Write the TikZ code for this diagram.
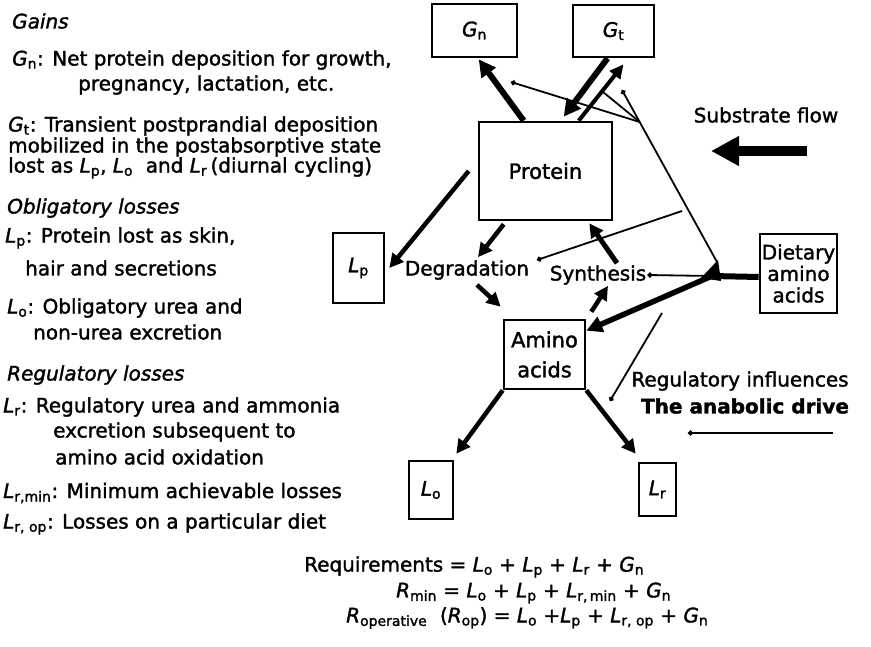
\documentclass[tikz,border=0pt]{standalone}
\usepackage{fontspec}
\setmainfont{DejaVu Sans}[FakeBold=1.6]
\usetikzlibrary{arrows.meta,calc}
\newcommand\sbs[2]{\textit{#1}\textsubscript{#2}}
\begin{document}
\begin{tikzpicture}[x=1pt,y=-1pt,
  every node/.style={font=\fontsize{20}{21}\selectfont},
  box/.style={draw,line width=2.6pt,inner sep=0pt,align=center},
  lt/.style={anchor=west,inner sep=0pt},
  lbl/.style={inner sep=1pt},
  big/.style={line width=6pt,-{Triangle[length=17pt,width=17pt]}},
  med/.style={line width=4.5pt,-{Triangle[length=14pt,width=14pt]}},
  thin/.style={line width=1.8pt},
  tipo/.style={-{Circle[open,length=5pt,width=5pt]}}
]
\useasboundingbox (0,0) rectangle (871,647);

% ---- left legend
\node[lt] (t1) at (12,21) {\textit{Gains}};
\node[lt] (t2) at (12,60) {\sbs{G}{n}: Net protein deposition for growth,};
\node[lt] (t3) at (78,85) {pregnancy, lactation, etc.};
\node[lt] (t4) at (8,126) {\sbs{G}{t}: Transient postprandial deposition};
\node[lt] (t5) at (8,147) {mobilized in the postabsorptive state};
\node[lt] (t6) at (8,168) {lost as \sbs{L}{p}, \sbs{L}{o}\ \ and \sbs{L}{r}\,(diurnal cycling)};
\node[lt] (t7) at (7,208) {\textit{Obligatory losses}};
\node[lt] (t8) at (5,238) {\sbs{L}{p}: Protein lost as skin,};
\node[lt] (t9) at (25,268) {hair and secretions};
\node[lt] (t10) at (7,308) {\sbs{L}{o}: Obligatory urea and};
\node[lt] (t11) at (33,332) {non-urea excretion};
\node[lt] (t12) at (7,375) {\textit{Regulatory losses}};
\node[lt] (t13) at (3,407) {\sbs{L}{r}: Regulatory urea and ammonia};
\node[lt] (t14) at (53,432) {excretion subsequent to};
\node[lt] (t15) at (55,457) {amino acid oxidation};
\node[lt] (t16) at (3,493) {\sbs{L}{r,min}: Minimum achievable losses};
\node[lt] (t17) at (3,524) {\sbs{L}{r, op}: Losses on a particular diet};

% ---- equations
\node[lt] (e1) at (304,567) {Requirements = \sbs{L}{o} + \sbs{L}{p} + \sbs{L}{r} + \sbs{G}{n}};
\node[lt] (e2) at (396,593) {\sbs{R}{min} = \sbs{L}{o} + \sbs{L}{p} + \sbs{L}{r,\,min} + \sbs{G}{n}};
\node[lt] (e3) at (346,618) {\sbs{R}{operative}\ \ (\sbs{R}{op}) = \sbs{L}{o} +\sbs{L}{p} + \sbs{L}{r, op} + \sbs{G}{n}};

% ---- boxes
\node[box,minimum width=85pt,minimum height=53pt] (Gn) at (474.5,30.5) {\sbs{G}{n}};
\node[box,minimum width=81pt,minimum height=52pt] (Gt) at (613.5,31) {\sbs{G}{t}};
\node[box,minimum width=133pt,minimum height=98pt,font=\fontsize{21}{21}\selectfont] (P) at (545.5,171) {Protein};
\node[box,minimum width=51pt,minimum height=70pt] (Lp) at (358.5,268) {\sbs{L}{p}};
\node[box,minimum width=81pt,minimum height=69pt,font=\fontsize{21}{30}\selectfont] (A) at (544.5,354.5) {Amino\\acids};
\node[box,minimum width=77pt,minimum height=79pt,font=\fontsize{20}{21.5}\selectfont] (D) at (798.5,273.5) {Dietary\\amino\\acids};
\node[box,minimum width=44pt,minimum height=58pt] (Lo) at (431,490) {\sbs{L}{o}};
\node[box,minimum width=37pt,minimum height=53pt] (Lr) at (657.5,489.5) {\sbs{L}{r}};
\node[lbl] (deg) at (467,270) {Degradation};
\node[lbl] (syn) at (598,275) {Synthesis};

% ---- side labels
\node[lbl] (sf) at (766,115) {Substrate flow};
\node[lbl] (ri) at (740,381) {Regulatory influences};
\node[lbl] (ad) at (745,406) {\textbf{The anabolic drive}};

% ---- thick arrows (yshift: positive = up)
\draw[big] ([xshift=46pt]P.north west) -- ([xshift=48pt,yshift=-1pt]Gn.south west);
\draw[big] ([xshift=-6pt]Gt.south) -- ([xshift=86pt,yshift=4pt]P.north west);
\draw[line width=4pt,-{Triangle[length=14pt,width=13pt]}] ([xshift=101pt]P.north west) -- ([xshift=10pt,yshift=-6pt]Gt.south);
\draw[med] ([xshift=-9pt]P.west) -- ([xshift=4pt]Lp.east);
\draw[med] ([xshift=26pt,yshift=-3pt]P.south west) -- ([xshift=11pt,yshift=2pt]deg.north);
\draw[med] ([xshift=10pt,yshift=-4pt]deg.south) -- ([xshift=-2pt,yshift=12pt]A.north west);
\draw[med] ([xshift=5pt,yshift=7pt]A.north east) -- ([xshift=10pt]syn.south);
\draw[med,line width=5pt] ([xshift=19pt,yshift=1pt]syn.north) -- ([xshift=-24pt,yshift=-2pt]P.south east);
\draw[med] (A.south west) -- ([xshift=2pt,yshift=6pt]Lo.north east);
\draw[med] (A.south east) -- ([xshift=-2pt,yshift=8pt]Lr.north west);

% ---- dietary input
\coordinate (J) at (712,276);
\coordinate (J2) at (717,262);
\draw[line width=6pt] ([yshift=-3.5pt]D.west) -- (J);
\fill (701,278) -- (718,260) -- (721,281) -- cycle;
\draw[line width=5.5pt,-{Triangle[length=16pt,width=16pt]}] (J) -- ([yshift=-12pt]A.north east);
\draw[thin,tipo] (J) -- (syn.east);

% ---- regulatory thin lines
\coordinate (T1) at (622,90);
\coordinate (C) at ($(J2)!0.814!(T1)$);
\coordinate (T2) at (511,82);
\coordinate (T3) at (603,92);
\draw[thin,tipo] (J2) -- (T1);
\draw[thin,tipo] (C) -- (T2);
\draw[thin] (C) -- (T3);
\coordinate (S1) at (682,211);
\coordinate (S2) at (537,260);
\draw[thin,tipo] (S1) -- (S2);
\coordinate (R1) at (662,313);
\coordinate (R2) at (610,401);
\draw[thin,tipo] (R1) -- (R2);

% ---- legend arrows
\coordinate (SF1) at (807,151);
\coordinate (SF2) at (711,151);
\draw[line width=10pt,-{Triangle[length=28pt,width=28pt]}] (SF1) -- (SF2);
\coordinate (AD1) at (833,433);
\coordinate (AD2) at (688,433);
\draw[line width=2.2pt,tipo] (AD1) -- (AD2);
\end{tikzpicture}
\end{document}
